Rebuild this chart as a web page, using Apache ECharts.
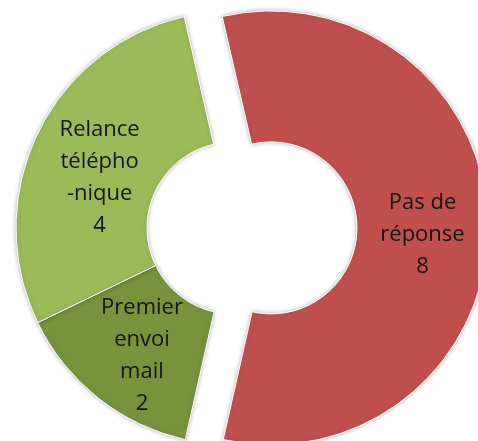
<!DOCTYPE html>
<html>
<head>
    <meta charset="utf-8">
    <title>ECharts</title>
    <script src="https://cdn.jsdelivr.net/npm/echarts@6/dist/echarts.min.js"></script>
    <style>
        html, body { margin: 0; padding: 0; background: #fff; }
    </style>
</head>
<body>
    <div id="main" style="width: 478px;height:441px;"></div>

    <script type="text/javascript">
        var myChart = echarts.init(document.getElementById('main'));

        // categories, in drawing order (clockwise from the top)
        var categories = ['Pas de\nréponse', 'Premier\nenvoi\nmail', 'Relance\ntélépho\n-nique'];
        var values = [8, 2, 4];
        var colors = ['#c0504d', '#77933c', '#9bbb59'];
        // small nudges so the labels sit where Excel put them
        var labelOffsets = [[-3, 7], [5, 7], [6, 16]];

        var data = categories.map(function (name, i) {
            var item = {
                name: name,
                value: values[i],
                itemStyle: { color: colors[i] },
                label: { offset: labelOffsets[i] }
            };
            if (i === 0) {
                // slice pulled out of the ring
                item.selected = true;
                item.select = {
                    itemStyle: { color: colors[i], borderColor: '#fff', borderWidth: 1 },
                    label: { offset: labelOffsets[i] }
                };
            }
            return item;
        });

        var option = {
            animation: false,
            series: [{
                type: 'pie',
                center: [233, 228],
                radius: [86, 217],
                startAngle: 103,
                clockwise: true,
                selectedMode: 'single',
                selectedOffset: 38,
                avoidLabelOverlap: false,
                itemStyle: {
                    borderColor: '#fff',
                    borderWidth: 1,
                    shadowBlur: 4,
                    shadowColor: 'rgba(60,60,90,0.35)'
                },
                label: {
                    show: true,
                    position: 'inside',
                    formatter: '{b}\n{c}',
                    color: '#141414',
                    fontFamily: 'Open Sans',
                    fontSize: 22,
                    lineHeight: 32,
                    align: 'center'
                },
                labelLine: { show: false },
                emphasis: { disabled: true },
                data: data
            }]
        };

        myChart.setOption(option);
    </script>
</body>
</html>
